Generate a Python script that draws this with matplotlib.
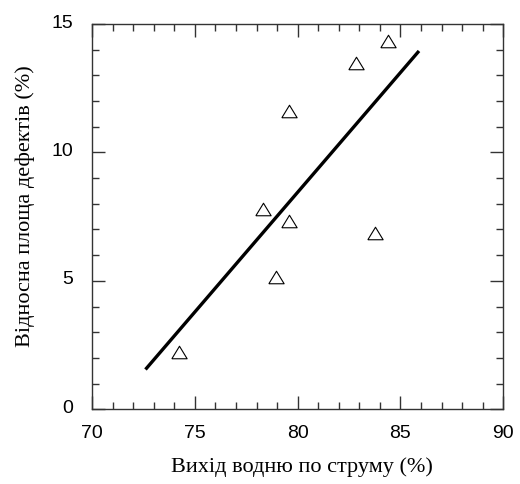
import matplotlib
matplotlib.use("Agg")
import matplotlib.pyplot as plt
from matplotlib.ticker import MultipleLocator
from matplotlib.transforms import ScaledTranslation

# Data
hydrogen_yield = [74.25, 78.3, 78.95, 79.6, 79.6, 82.85, 83.75, 84.4]
defect_area = [2.25, 7.8, 5.15, 7.35, 11.6, 13.5, 6.85, 14.35]
fit_x = [72.6, 85.9]
fit_y = [1.55, 13.95]

x_ticks = [70, 75, 80, 85, 90]
y_ticks = [0, 5, 10, 15]
x_label = "Вихід водню по струму (%)"
y_label = "Відносна площа дефектів (%)"

W, H = 520, 484
fig = plt.figure(figsize=(W / 100, H / 100), dpi=100)
ax = fig.add_axes([92 / W, 1 - 409.3 / H, (503.3 - 92) / W, (409.3 - 24) / H])

ax.plot(fit_x, fit_y, color="black", lw=2.4, solid_capstyle="butt", zorder=2)
tri = [(-1, -0.82), (1, -0.82), (0, 0.82), (-1, -0.82)]
ax.plot(hydrogen_yield, defect_area, linestyle="none", marker=tri, ms=11,
        mfc="white", mec="black", mew=0.8, zorder=3)

ax.set_xlim(70, 90)
ax.set_ylim(0, 15)
ax.set_xticks(x_ticks)
ax.set_yticks(y_ticks)
ax.xaxis.set_minor_locator(MultipleLocator(1))
ax.yaxis.set_minor_locator(MultipleLocator(1))

spine_col = "#333333"
for s in ax.spines.values():
    s.set_color(spine_col)
    s.set_linewidth(1.0)

ax.tick_params(which="both", direction="in", top=True, right=True,
               color=spine_col, width=1.0)
ax.tick_params(which="major", length=9.5)
ax.tick_params(which="minor", length=5)
ax.tick_params(axis="x", which="major", pad=11, labelsize=14)
ax.tick_params(axis="y", which="major", pad=13.5, labelsize=14)
shift_up = ScaledTranslation(0, 3 / 100, fig.dpi_scale_trans)
for lab in ax.get_xticklabels() + ax.get_yticklabels():
    lab.set_family(["Liberation Sans", "DejaVu Sans"])
for lab in ax.get_yticklabels():
    lab.set_transform(lab.get_transform() + shift_up)

fig.text(301.7 / W, 1 - 467 / H, x_label, ha="center", va="center",
         fontsize=16, family=["Liberation Serif", "DejaVu Serif"])
fig.text(25 / W, 1 - 206.5 / H, y_label, ha="center", va="center",
         rotation=90, fontsize=16, family=["Liberation Serif", "DejaVu Serif"])

fig.savefig("out.png", dpi=100)
